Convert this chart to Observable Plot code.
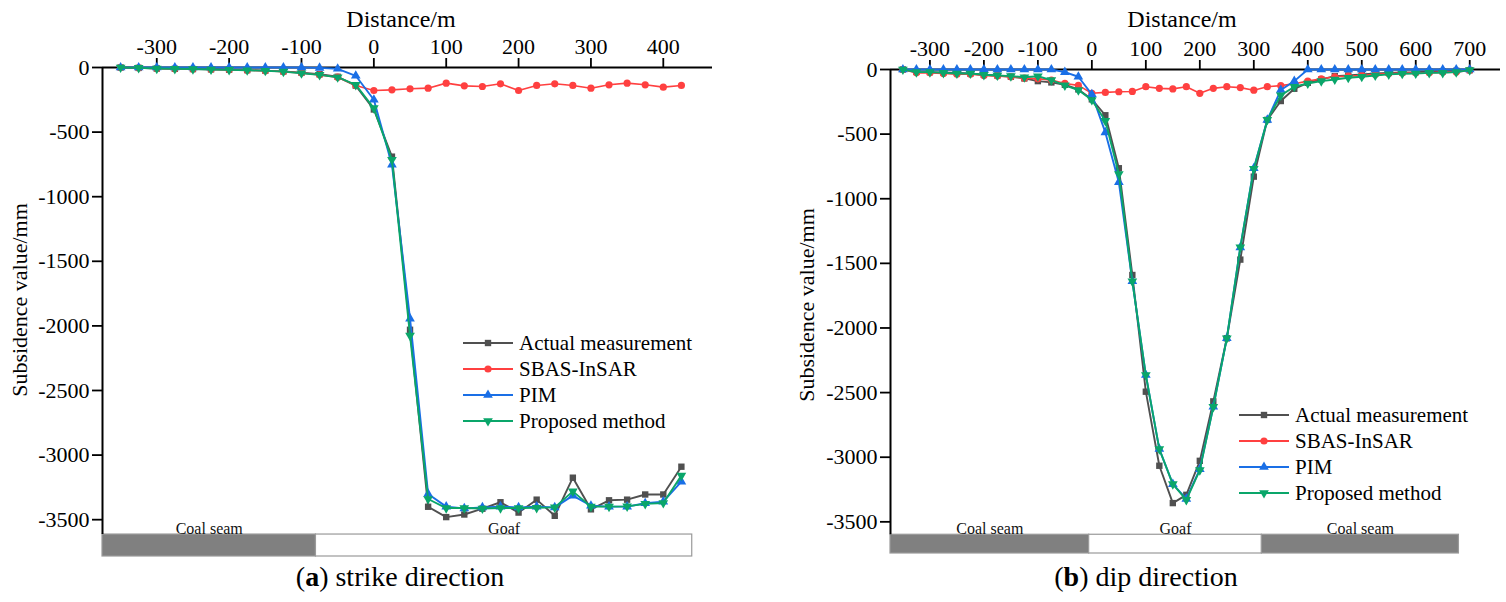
<!DOCTYPE html>
<html><head><meta charset="utf-8">
<script src="https://cdn.jsdelivr.net/npm/d3@7"></script>
<script src="https://cdn.jsdelivr.net/npm/@observablehq/plot@0.6"></script>
<style>
body{margin:0;background:#fff;}
#wrap{position:relative;width:1506px;height:602px;overflow:hidden;background:#fff;font-family:"Liberation Serif","Times New Roman",serif;color:#000;}
.abs{position:absolute;white-space:nowrap;line-height:1;}
.chart{position:absolute;top:0;}
.chart svg text{font-family:"Liberation Serif","Times New Roman",serif;}
.legend{position:absolute;font-size:21px;}
.legend .row{display:flex;align-items:center;height:26px;}
.legend svg{display:block;margin-right:6px;}
</style></head><body><div id="wrap"></div>
<script>
// ---------------- data: (a) strike direction ----------------
const strikeX = [-350,-325,-300,-275,-250,-225,-200,-175,-150,-125,-100,-75,-50,-25,0,25,50,75,100,125,150,175,200,225,250,275,300,325,350,375,400,425];
const strikeActual = [0,-3,-8,-10,-12,-14,-17,-20,-24,-30,-40,-52,-72,-140,-325,-690,-2030,-3400,-3480,-3460,-3415,-3365,-3445,-3345,-3470,-3175,-3420,-3350,-3345,-3305,-3305,-3090];
const strikeSBAS   = [0,-3,-8,-10,-12,-15,-18,-21,-25,-32,-42,-57,-75,-140,-178,-173,-165,-160,-121,-142,-147,-126,-178,-139,-126,-139,-160,-134,-121,-134,-152,-139];
const strikePIM    = [0,0,0,0,0,0,0,0,0,0,0,-3,-10,-64,-250,-752,-1944,-3301,-3399,-3413,-3405,-3399,-3405,-3399,-3405,-3314,-3392,-3399,-3399,-3373,-3361,-3206];
const strikeProposed = [0,-3,-8,-10,-12,-15,-18,-21,-25,-32,-44,-57,-75,-134,-314,-714,-2075,-3340,-3410,-3410,-3413,-3410,-3410,-3408,-3405,-3281,-3399,-3399,-3397,-3378,-3371,-3159];
const strikeXTicks = [-300,-200,-100,0,100,200,300,400];
const strikeSeamEdges = [-375,-80,440];
const strikeSeamLabels = ["Coal seam","Goaf"];

// ---------------- data: (b) dip direction ----------------
const dipX = [-350,-325,-300,-275,-250,-225,-200,-175,-150,-125,-100,-75,-50,-25,0,25,50,75,100,125,150,175,200,225,250,275,300,325,350,375,400,425,450,475,500,525,550,575,600,625,650,675,700];
const dipActual = [0,-18,-20,-23,-26,-31,-41,-46,-56,-69,-90,-100,-118,-154,-231,-354,-764,-1590,-2493,-3066,-3355,-3291,-3028,-2568,-2080,-1471,-829,-390,-244,-149,-103,-77,-51,-46,-38,-31,-26,-22,-20,-15,-15,-10,-5];
const dipSBAS = [0,-26,-26,-31,-36,-36,-46,-51,-56,-67,-72,-82,-108,-123,-184,-177,-172,-170,-133,-146,-150,-133,-184,-146,-133,-140,-160,-133,-125,-110,-90,-72,-56,-51,-46,-38,-31,-28,-26,-26,-20,-20,-5];
const dipPIM = [0,0,0,0,0,0,0,0,0,0,0,0,-20,-56,-192,-487,-872,-1639,-2364,-2937,-3208,-3322,-3092,-2610,-2080,-1376,-764,-390,-159,-90,0,0,0,0,0,0,0,0,0,0,0,0,0];
const dipProposed = [0,-20,-20,-26,-31,-31,-41,-46,-51,-60,-52,-82,-123,-159,-236,-397,-808,-1639,-2364,-2937,-3208,-3330,-3100,-2610,-2080,-1376,-769,-390,-200,-133,-108,-90,-77,-64,-56,-46,-38,-33,-31,-26,-26,-20,-5];
const dipXTicks = [-300,-200,-100,0,100,200,300,400,500,600,700];
const dipSeamEdges = [-373,-5,315,680];
const dipSeamLabels = ["Coal seam","Goaf","Coal seam"];

const yTicks = [0,-500,-1000,-1500,-2000,-2500,-3000,-3500];
const seriesNames = ["Actual measurement","SBAS-InSAR","PIM","Proposed method"];

// ---------------- styling ----------------
const serif = "'Liberation Serif', 'Times New Roman', serif";
const colors = ["#505050","#ff4040","#1a6fe6","#0aa66a"];
const triangleDown = {
  draw(context, size) {
    const s3 = Math.sqrt(3);
    const y = -Math.sqrt(size / (s3 * 3));
    context.moveTo(0, -y * 2);
    context.lineTo(-s3 * y, y);
    context.lineTo(s3 * y, y);
    context.closePath();
  }
};
const symbols = ["square","circle","triangle",triangleDown];
const fmt = d => String(d);

function makeChart(cfg) {
  const seam = cfg.labels.map((label, i) => ({label, start: cfg.edges[i], end: cfg.edges[i+1]}));
  const marks = [
    Plot.rect(seam, {x1: "start", x2: "end", y1: cfg.seamTop, y2: cfg.seamBottom,
      fill: d => d.label === "Goaf" ? "#ffffff" : "#808080", stroke: "#9a9a9a", strokeWidth: 1.2}),
    Plot.text(seam, {x: d => (d.start + d.end) / 2, y: cfg.seamTop, text: "label",
      lineAnchor: "bottom", dy: -1, fontSize: 16, fontFamily: serif, fill: "#111"}),
    Plot.ruleY([0], {stroke: "#000", strokeWidth: 2}),
    Plot.ruleX([cfg.xDomain[0]], {y1: 0, y2: cfg.seamTop, stroke: "#000", strokeWidth: 2}),
    Plot.axisX({anchor: "top", ticks: cfg.xTicks, tickSize: 10, tickPadding: 4, fontSize: 22, fontFamily: serif,
      label: null, tickFormat: fmt, strokeWidth: 1.8}),
    Plot.axisY({anchor: "left", ticks: yTicks, tickSize: 10, tickPadding: 3, fontSize: 22, fontFamily: serif,
      label: null, tickFormat: fmt, strokeWidth: 1.8})
  ];
  cfg.series.forEach((vals, i) => {
    const data = cfg.xs.map((x, j) => ({x, y: vals[j], s: seriesNames[i]}));
    marks.push(Plot.line(data, {x: "x", y: "y", stroke: colors[i], strokeWidth: i === 1 ? 1.6 : 1.9}));
    marks.push(Plot.dot(data, {x: "x", y: "y", symbol: symbols[i], fill: colors[i], r: 3.6}));
  });
  return Plot.plot({
    width: cfg.width, height: cfg.height,
    marginLeft: cfg.marginLeft, marginRight: cfg.marginRight,
    marginTop: cfg.marginTop, marginBottom: cfg.marginBottom,
    x: {domain: cfg.xDomain},
    y: {domain: cfg.yDomain},
    style: {fontFamily: serif, color: "#000", background: "transparent", overflow: "visible"},
    marks
  });
}

const wrap = document.getElementById("wrap");

const left = makeChart({
  xs: strikeX, series: [strikeActual, strikeSBAS, strikePIM, strikeProposed],
  xDomain: [-375, 468], yDomain: [-3785, 0], xTicks: strikeXTicks,
  edges: strikeSeamEdges, labels: strikeSeamLabels, seamTop: -3615, seamBottom: -3785,
  width: 760, height: 560, marginLeft: 102, marginRight: 48, marginTop: 67, marginBottom: 4
});
const leftDiv = document.createElement("div");
leftDiv.className = "chart"; leftDiv.style.left = "0px";
leftDiv.appendChild(left); wrap.appendChild(leftDiv);

const right = makeChart({
  xs: dipX, series: [dipActual, dipSBAS, dipPIM, dipProposed],
  xDomain: [-373, 757], yDomain: [-3745, 0], xTicks: dipXTicks,
  edges: dipSeamEdges, labels: dipSeamLabels, seamTop: -3600, seamBottom: -3745,
  width: 716, height: 557, marginLeft: 100, marginRight: 6, marginTop: 69, marginBottom: 4
});
const rightDiv = document.createElement("div");
rightDiv.className = "chart"; rightDiv.style.left = "790px";
rightDiv.appendChild(right); wrap.appendChild(rightDiv);

// ---------------- text ----------------
function addText(html, cx, cy, size, rotate) {
  const d = document.createElement("div");
  d.className = "abs";
  d.innerHTML = html;
  d.style.fontSize = size + "px";
  d.style.left = cx + "px"; d.style.top = cy + "px";
  d.style.transform = "translate(-50%,-50%)" + (rotate ? " rotate(-90deg)" : "");
  wrap.appendChild(d);
}
addText("Distance/m", 401, 19, 24);
addText("Distance/m", 1182, 19, 24);
addText("Subsidence value/mm", 20, 300, 22, true);
addText("Subsidence value/mm", 807, 305, 22, true);
addText("(<b>a</b>) strike direction", 400, 577, 28);
addText("(<b>b</b>) dip direction", 1146, 577, 28);

// ---------------- legends ----------------
function swatch(i) {
  const svg = d3.create("svg").attr("width", 50).attr("height", 20);
  svg.append("line").attr("x1", 0).attr("x2", 50).attr("y1", 10).attr("y2", 10)
    .attr("stroke", colors[i]).attr("stroke-width", 1.9);
  const sym = typeof symbols[i] === "string"
    ? {square: d3.symbolSquare, circle: d3.symbolCircle, triangle: d3.symbolTriangle}[symbols[i]]
    : symbols[i];
  svg.append("path").attr("transform", "translate(25,10)")
    .attr("d", d3.symbol(sym, Math.PI * 3.6 * 3.6)()).attr("fill", colors[i]);
  return svg.node();
}
function addLegend(x, yTop) {
  const lg = document.createElement("div");
  lg.className = "legend";
  lg.style.left = x + "px"; lg.style.top = yTop + "px";
  seriesNames.forEach((name, i) => {
    const row = document.createElement("div");
    row.className = "row";
    row.appendChild(swatch(i));
    const t = document.createElement("span"); t.textContent = name;
    row.appendChild(t);
    lg.appendChild(row);
  });
  wrap.appendChild(lg);
}
addLegend(463, 330);
addLegend(1239, 402);
</script>
</body></html>
